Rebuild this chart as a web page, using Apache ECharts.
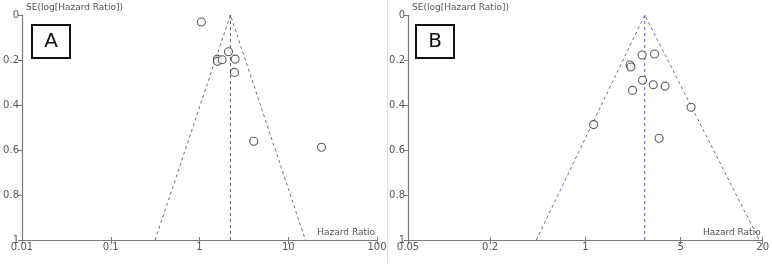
<!DOCTYPE html>
<html><head><meta charset="utf-8">
<script src="https://cdn.jsdelivr.net/npm/echarts@6/dist/echarts.min.js"></script>
<style>html,body{margin:0;padding:0;background:#fff}#c{width:772px;height:264px}</style>
</head><body><div id="c"></div>
<script>
// Panel A data (hazard ratio, SE of log HR)
const hrA = [1.05, 2.12, 1.59, 1.59, 1.80, 2.52, 2.48, 4.09, 23.7];
const seA = [0.031, 0.163, 0.196, 0.206, 0.199, 0.196, 0.255, 0.561, 0.588];
const pooledA = 2.23;
const funnelLowA = 0.316, funnelHighA = 15.6;
const ticksA = [0.01, 0.1, 1, 10, 100];
// Panel B data
const hrB = [2.61, 3.22, 2.13, 2.16, 2.63, 3.15, 3.85, 2.22, 5.97, 1.15, 3.48];
const seB = [0.178, 0.173, 0.222, 0.231, 0.290, 0.310, 0.316, 0.335, 0.410, 0.487, 0.548];
const pooledB = 2.73;
const funnelLowB = 0.437, funnelHighB = 18.9;
const ticksB = [0.05, 0.2, 1, 5, 20];

const L = Math.log10;
const txt = '#555';
const axisCol = '#7a7a7a';
function fmt(v){ const r = Math.pow(10, v); return String(parseFloat(r.toPrecision(3))); }

function xAxis(i, ticks){
  const lt = ticks.map(L);
  return {
    type:'value', gridIndex:i, min:lt[0], max:lt[lt.length-1], position:'bottom',
    axisLine:{onZero:false, lineStyle:{color:axisCol,width:1.2}},
    axisTick:{show:true, length:4, inside:false, customValues:lt, lineStyle:{color:axisCol}},
    axisLabel:{show:true, customValues:lt, formatter:fmt, color:txt, fontSize:10, margin:2, fontFamily:'DejaVu Sans'},
    splitLine:{show:false},
    name:'Hazard Ratio', nameLocation:'end', nameGap:-2,
    nameTextStyle:{color:txt, fontSize:9, align:'right', verticalAlign:'bottom', padding:[0,0,3,0], fontFamily:'DejaVu Sans'}
  };
}
function xAxisIn(i, ticks){
  const lt = ticks.map(L);
  return {
    type:'value', gridIndex:i, min:lt[0], max:lt[lt.length-1], position:'bottom',
    axisLine:{show:false, onZero:false},
    axisTick:{show:true, length:3, inside:true, customValues:lt, lineStyle:{color:axisCol}},
    axisLabel:{show:false}, splitLine:{show:false}
  };
}
function yAxis(i){
  return {
    type:'value', gridIndex:i, min:0, max:1, interval:0.2, inverse:true, position:'left',
    axisLine:{show:true, onZero:false, lineStyle:{color:axisCol,width:1.2}},
    axisTick:{show:true, length:4, lineStyle:{color:axisCol}},
    axisLabel:{color:txt, fontSize:10, margin:3, fontFamily:'DejaVu Sans'},
    splitLine:{show:false},
    name:'SE(log[Hazard Ratio])', nameLocation:'start', nameGap:3,
    nameTextStyle:{color:txt, fontSize:9, align:'left', verticalAlign:'bottom', padding:[0,0,0,4], fontFamily:'DejaVu Sans'}
  };
}
function pts(hr, se){ return hr.map((h,k)=>[L(h), se[k]]); }
function scatter(i, hr, se){
  return {type:'scatter', xAxisIndex:i, yAxisIndex:i, data:pts(hr,se), symbol:'circle', symbolSize:8,
    itemStyle:{color:'#fff', borderColor:'#333', borderWidth:1.1}, z:5, silent:true};
}
function line(i, data, color){
  return {type:'line', xAxisIndex:i, yAxisIndex:i, data:data, symbol:'none', silent:true,
    lineStyle:{color:color, width:1, type:[3,3]}, z:3};
}

const option = {
  animation:false,
  grid:[
    {left:22, right:395, top:15, bottom:24},
    {left:408, right:9, top:15, bottom:24}
  ],
  xAxis:[xAxis(0, ticksA), xAxis(1, ticksB), xAxisIn(0, ticksA), xAxisIn(1, ticksB)],
  yAxis:[yAxis(0), yAxis(1)],
  series:[
    line(0, [[L(funnelLowA),1],[L(pooledA),0],[L(funnelHighA),1]], '#6b6e80'),
    line(0, [[L(pooledA),0],[L(pooledA),1]], '#555a70'),
    scatter(0, hrA, seA),
    line(1, [[L(funnelLowB),1],[L(pooledB),0],[L(funnelHighB),1]], '#6a6f95'),
    line(1, [[L(pooledB),0],[L(pooledB),1]], '#5a62b0'),
    scatter(1, hrB, seB)
  ],
  graphic:[
    {type:'line', shape:{x1:387.5,y1:0,x2:387.5,y2:264}, style:{stroke:'#e2e2e2', lineWidth:1}},
    {type:'rect', shape:{x:32,y:25,width:38,height:33}, style:{fill:'#fff', stroke:'#111', lineWidth:2}},
    {type:'text', x:51, y:42, style:{text:'A', fill:'#111', font:'20px "DejaVu Sans"', align:'center', verticalAlign:'middle'}},
    {type:'rect', shape:{x:416,y:25,width:38,height:33}, style:{fill:'#fff', stroke:'#111', lineWidth:2}},
    {type:'text', x:435, y:42, style:{text:'B', fill:'#111', font:'20px "DejaVu Sans"', align:'center', verticalAlign:'middle'}}
  ]
};
const chart = echarts.init(document.getElementById('c'), null, {renderer:'canvas'});
chart.setOption(option);
</script></body></html>
